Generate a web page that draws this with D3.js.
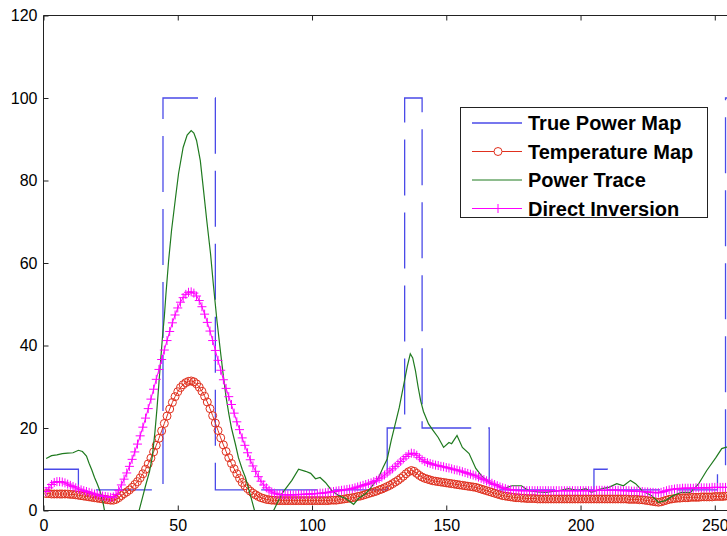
<!DOCTYPE html>
<html>
<head>
<meta charset="utf-8">
<script src="https://cdn.jsdelivr.net/npm/d3@7"></script>
<style>
  body { margin: 0; background: #fff; }
  #chart text { font-family: "Liberation Sans", Arial, Helvetica, sans-serif; }
</style>
</head>
<body>
<div id="chart"></div>
<script>
// values, sample index 1..256

// true power map: level held from each edge until the next one
var blueEdges = [0, 13, 44.5, 64, 128, 134.5, 141, 166, 205, 210, 251, 254, 257];
var blueLevels = [10, 5, 100, 5, 20, 100, 20, 5, 10, 5, 10, 100, 100];

// temperature map (red circles)
var tempMap = [
    4.1, 4.1, 4.0, 4.0, 4.0, 4.0, 4.0, 4.0, 4.0, 3.9,
    3.9, 3.8, 3.7, 3.6, 3.5, 3.4, 3.3, 3.2, 3.1, 3.0,
    2.9, 2.8, 2.7, 2.6, 2.5, 2.5, 2.7, 3.1, 3.6, 4.1,
    4.5, 5.0, 5.6, 6.3, 7.0, 7.9, 8.9, 10.0, 11.3, 12.7,
    14.2, 15.8, 17.5, 19.3, 21.1, 22.9, 24.6, 26.2, 27.6, 28.8,
    29.8, 30.5, 31.0, 31.3, 31.4, 31.2, 30.7, 29.9, 28.9, 27.7,
    26.3, 24.7, 23.0, 21.2, 19.4, 17.6, 15.9, 14.3, 12.8, 11.4,
    10.1, 8.9, 7.8, 6.8, 6.0, 5.3, 4.7, 4.2, 3.8, 3.4,
    3.1, 2.9, 2.7, 2.6, 2.5, 2.5, 2.4, 2.4, 2.4, 2.4,
    2.4, 2.4, 2.4, 2.4, 2.4, 2.4, 2.4, 2.4, 2.4, 2.4,
    2.4, 2.4, 2.4, 2.4, 2.4, 2.4, 2.5, 2.5, 2.5, 2.6,
    2.7, 2.8, 2.9, 3.0, 3.1, 3.2, 3.4, 3.5, 3.7, 3.9,
    4.1, 4.3, 4.5, 4.7, 5.0, 5.2, 5.5, 5.8, 6.1, 6.5,
    6.9, 7.3, 7.8, 8.3, 8.9, 9.4, 9.7, 9.5, 9.0, 8.5,
    8.1, 7.8, 7.6, 7.4, 7.2, 7.1, 7.0, 6.9, 6.8, 6.7,
    6.6, 6.5, 6.4, 6.3, 6.2, 6.1, 6.0, 5.9, 5.8, 5.7,
    5.6, 5.4, 5.2, 5.0, 4.8, 4.6, 4.4, 4.2, 4.0, 3.8,
    3.6, 3.5, 3.4, 3.3, 3.2, 3.1, 3.1, 3.0, 3.0, 2.9,
    2.9, 2.9, 2.9, 2.8, 2.8, 2.8, 2.8, 2.8, 2.8, 2.8,
    2.8, 2.8, 2.8, 2.8, 2.8, 2.8, 2.8, 2.8, 2.8, 2.8,
    2.8, 2.8, 2.8, 2.8, 2.8, 2.8, 2.8, 2.8, 2.8, 2.8,
    2.8, 2.8, 2.8, 2.8, 2.8, 2.8, 2.8, 2.7, 2.7, 2.7,
    2.7, 2.6, 2.6, 2.5, 2.4, 2.3, 2.2, 2.1, 2.0, 2.1,
    2.3, 2.5, 2.7, 2.8, 2.9, 3.0, 3.0, 3.1, 3.1, 3.1,
    3.2, 3.2, 3.2, 3.2, 3.3, 3.3, 3.3, 3.3, 3.3, 3.4,
    3.4, 3.4, 3.4, 3.5, 3.5, 3.5
];

// direct inversion (magenta plus)
var directInv = [
    4.6, 5.5, 6.3, 6.8, 7.0, 7.0, 6.9, 6.7, 6.4, 6.1,
    5.8, 5.5, 5.2, 5.0, 4.8, 4.6, 4.4, 4.2, 4.0, 3.8,
    3.6, 3.5, 3.4, 3.3, 3.2, 3.3, 3.9, 4.9, 6.2, 7.6,
    9.1, 10.7, 12.4, 14.2, 16.1, 18.1, 20.2, 22.4, 24.7, 27.0,
    29.4, 31.8, 34.2, 36.6, 38.9, 41.2, 43.4, 45.5, 47.4, 49.1,
    50.5, 51.6, 52.4, 52.9, 53.0, 52.7, 52.0, 50.9, 49.4, 47.6,
    45.6, 43.5, 41.2, 38.8, 36.4, 34.0, 31.7, 29.6, 27.6, 25.7,
    23.6, 21.5, 19.6, 17.6, 15.8, 14.0, 12.3, 10.8, 9.5, 8.2,
    7.1, 6.2, 5.5, 4.9, 4.5, 4.2, 4.0, 3.9, 3.8, 3.8,
    3.8, 3.8, 3.8, 3.8, 3.9, 3.9, 3.9, 4.0, 4.0, 4.0,
    4.1, 4.1, 4.2, 4.2, 4.3, 4.4, 4.5, 4.6, 4.7, 4.8,
    4.9, 5.0, 5.1, 5.2, 5.3, 5.5, 5.7, 5.9, 6.1, 6.3,
    6.5, 6.7, 7.0, 7.3, 7.7, 8.1, 8.6, 9.1, 9.6, 10.1,
    10.7, 11.3, 11.9, 12.5, 13.1, 13.6, 13.9, 13.8, 13.4, 12.8,
    12.3, 11.9, 11.6, 11.4, 11.2, 11.0, 10.9, 10.7, 10.6, 10.4,
    10.3, 10.1, 9.9, 9.8, 9.6, 9.4, 9.2, 9.0, 8.8, 8.6,
    8.4, 8.1, 7.8, 7.5, 7.2, 6.9, 6.6, 6.3, 6.0, 5.7,
    5.5, 5.3, 5.1, 5.0, 4.9, 4.9, 4.8, 4.8, 4.8, 4.8,
    4.8, 4.8, 4.8, 4.8, 4.8, 4.8, 4.8, 4.8, 4.8, 4.8,
    4.8, 4.8, 4.8, 4.8, 4.8, 4.8, 4.8, 4.8, 4.8, 4.8,
    4.8, 4.8, 4.8, 4.8, 4.8, 4.9, 4.9, 4.9, 4.9, 4.9,
    4.9, 4.9, 4.9, 4.9, 4.8, 4.8, 4.8, 4.8, 4.7, 4.7,
    4.7, 4.6, 4.6, 4.5, 4.5, 4.4, 4.4, 4.3, 4.3, 4.4,
    4.6, 4.8, 5.0, 5.1, 5.2, 5.3, 5.3, 5.4, 5.4, 5.4,
    5.4, 5.4, 5.5, 5.5, 5.5, 5.5, 5.5, 5.5, 5.6, 5.6,
    5.6, 5.6, 5.6, 5.6, 5.6, 5.6
];

// power trace (green), read at the visible turning points
var traceX = [1, 3, 5, 7, 9, 11, 13, 14.5, 16, 17, 18, 19, 20, 21, 22, 23, 25, 30, 34,
    35.6, 37, 38, 39.5, 40.5, 41.5, 42.3, 43, 43.7, 44.3, 45, 45.6, 46.6, 47.7, 49.2, 50.3,
    52, 53.5, 55, 56, 57, 58.4, 59.6, 60.8, 62.2, 63.3, 64.6, 66, 67, 68, 69, 70, 71.5,
    72.6, 74, 75.2, 76.5, 77.6, 79, 82, 85.7, 88.8, 92.5, 95, 97.6, 99.5, 101.3, 103, 105,
    107.4, 110, 112.5, 115.5, 117.3, 120, 122, 124.8, 126.5, 128, 129.5, 131, 132.5, 134,
    135.5, 136.6, 137.5, 138.5, 139.5, 140.5, 141.5, 143.4, 145, 147, 149, 151, 152, 154,
    156, 158.5, 161, 163, 165, 167, 169, 171.4, 174.5, 178, 180.7, 184, 187, 192, 195.6,
    199, 202, 204, 208, 210.5, 213.5, 216, 218.6, 220.5, 223, 226.5, 229, 231.6, 234.5,
    237.5, 241, 244, 247, 250.4, 252.6, 254, 256];
var traceY = [12.6, 13.3, 13.5, 13.8, 13.9, 14.0, 14.6, 14.3, 13.2, 11.4, 9.8, 8.0, 6.5, 4.8, 2.5, -1, -8, -15, -6,
    0, 3.5, 6, 9.5, 13, 19, 25, 31, 37, 42, 47, 52.5, 60.6, 68, 76, 81.7,
    88, 91, 92.1, 91.5, 89.7, 84.8, 77.6, 70.3, 62.3, 54.5, 46, 38, 32.5, 27.5, 23.5, 20, 16,
    12.8, 10, 8, 5, 2.4, -1, -8, 0, 4.1, 7.3, 10, 9.5, 9, 7.7, 8, 6.8,
    4.8, 3.6, 2.9, 1.5, 2.9, 4.1, 5.6, 8, 10.5, 12.5, 17, 21, 25, 30,
    35, 38, 37, 34, 30, 26.5, 24, 21, 19.5, 17.7, 15.3, 16.5, 16.2, 18.2,
    15.3, 13.8, 10.2, 8.5, 7.3, 6.5, 6, 5.3, 6, 6, 4.8, 4.5, 4.4, 4.8, 5.3,
    4.8, 5.3, 4.4, 5.3, 5.6, 6.5, 6, 7.3, 6.5, 4.8, 3.6, 2, 2.4, 3.6,
    4.4, 4.4, 6.5, 9.7, 12.8, 15, 15.3, 15.5];

var seriesNames = ["True Power Map", "Temperature Map", "Power Trace", "Direct Inversion"];
var seriesColors = ["#4a4ae8", "#e0301e", "#1f7a1f", "#ff00ff"];

var xTicks = [0, 50, 100, 150, 200, 250];
var yTicks = [0, 20, 40, 60, 80, 100, 120];

var w = 727,
    h = 536;

var x = d3.scaleLinear().domain([0, 256]).range([43.5, 730.9]);
var y = d3.scaleLinear().domain([0, 120]).range([510.5, 15.5]);

var svg = d3.select("#chart")
    .append("svg")
    .attr("width", w)
    .attr("height", h);

svg.append("defs").append("clipPath")
    .attr("id", "plotclip")
    .append("rect")
    .attr("x", x(0))
    .attr("y", y(120))
    .attr("width", x(256) - x(0))
    .attr("height", y(0) - y(120));

var idx = d3.range(1, 257);

var plot = svg.append("g").attr("clip-path", "url(#plotclip)");

// true power map, step line
var blueData = blueEdges.map(function(e, i) { return [e, blueLevels[i]]; });
plot.append("path")
    .datum(blueData)
    .attr("fill", "none")
    .attr("stroke", seriesColors[0])
    .attr("stroke-width", 1.3)
    .attr("stroke-dasharray", "56,17")
    .attr("d", d3.line()
        .curve(d3.curveStepAfter)
        .x(function(d) { return x(d[0]); })
        .y(function(d) { return y(d[1]); }));

// temperature map
var line = d3.line()
    .x(function(d, i) { return x(idx[i]); })
    .y(function(d) { return y(d); });

plot.append("path")
    .datum(tempMap)
    .attr("fill", "none")
    .attr("stroke", seriesColors[1])
    .attr("stroke-width", 1)
    .attr("d", line);

plot.append("g")
    .selectAll("circle")
    .data(tempMap)
    .enter()
    .append("circle")
    .attr("cx", function(d, i) { return x(idx[i]); })
    .attr("cy", function(d) { return y(d); })
    .attr("r", 4)
    .attr("fill", "none")
    .attr("stroke", seriesColors[1])
    .attr("stroke-width", 1);

// power trace
plot.append("path")
    .datum(traceY)
    .attr("fill", "none")
    .attr("stroke", seriesColors[2])
    .attr("stroke-width", 1.2)
    .attr("d", d3.line()
        .x(function(d, i) { return x(traceX[i]); })
        .y(function(d) { return y(d); }));

// direct inversion
plot.append("path")
    .datum(directInv)
    .attr("fill", "none")
    .attr("stroke", seriesColors[3])
    .attr("stroke-width", 1)
    .attr("d", line);

var plus = "M-4.5,0H4.5M0,-4.5V4.5";
plot.append("g")
    .selectAll("path")
    .data(directInv)
    .enter()
    .append("path")
    .attr("d", plus)
    .attr("transform", function(d, i) { return "translate(" + x(idx[i]) + "," + y(d) + ")"; })
    .attr("fill", "none")
    .attr("stroke", seriesColors[3])
    .attr("stroke-width", 1);

// axes, matlab style ticks pointing inward
var xAxis = d3.axisBottom(x).tickValues(xTicks).tickSizeInner(-5).tickSizeOuter(0).tickPadding(9);
var yAxis = d3.axisLeft(y).tickValues(yTicks).tickSizeInner(-5).tickSizeOuter(0).tickPadding(6);
var topAxis = d3.axisTop(x).tickValues(xTicks).tickSizeInner(-5).tickSizeOuter(0).tickFormat("");

function styleAxis(g) {
    g.select(".domain").remove();
    g.selectAll(".tick line").attr("stroke", "#222");
    g.selectAll(".tick text")
        .attr("fill", "#000")
        .style("font-size", "16px");
}

svg.append("g").attr("transform", "translate(0," + y(0) + ")").call(xAxis).call(styleAxis);
svg.append("g").attr("transform", "translate(" + x(0) + ",0)").call(yAxis).call(styleAxis);
svg.append("g").attr("transform", "translate(0," + y(120) + ")").call(topAxis).call(styleAxis);

// frame
svg.append("path")
    .attr("d", "M" + x(256) + "," + y(120) + "H" + x(0) + "V" + y(0) + "H" + x(256))
    .attr("fill", "none")
    .attr("stroke", "#222")
    .attr("stroke-width", 1);

// legend
var legend = svg.append("g").attr("class", "legend");
legend.append("rect")
    .attr("x", 460.5)
    .attr("y", 107.5)
    .attr("width", 247)
    .attr("height", 110)
    .attr("fill", "#fff")
    .attr("stroke", "#222")
    .attr("stroke-width", 1);

var rowY = [123, 151.5, 180, 208.5];

var rows = legend.selectAll("g.row")
    .data(seriesNames)
    .enter()
    .append("g")
    .attr("class", "row")
    .attr("transform", function(d, i) { return "translate(0," + rowY[i] + ")"; });

rows.append("line")
    .attr("x1", 472)
    .attr("x2", 522)
    .attr("stroke", function(d, i) { return seriesColors[i]; })
    .attr("stroke-width", function(d, i) { return i == 0 ? 1.3 : 1; });

rows.filter(function(d, i) { return i == 1; })
    .append("circle")
    .attr("cx", 498)
    .attr("r", 4)
    .attr("fill", "#fff")
    .attr("stroke", seriesColors[1]);

rows.filter(function(d, i) { return i == 3; })
    .append("path")
    .attr("d", plus)
    .attr("transform", "translate(498,0)")
    .attr("stroke", seriesColors[3]);

rows.append("text")
    .attr("x", 528)
    .attr("dy", "0.36em")
    .style("font-size", "20px")
    .style("font-weight", "bold")
    .attr("fill", "#000")
    .text(function(d) { return d; });
</script>
</body>
</html>
